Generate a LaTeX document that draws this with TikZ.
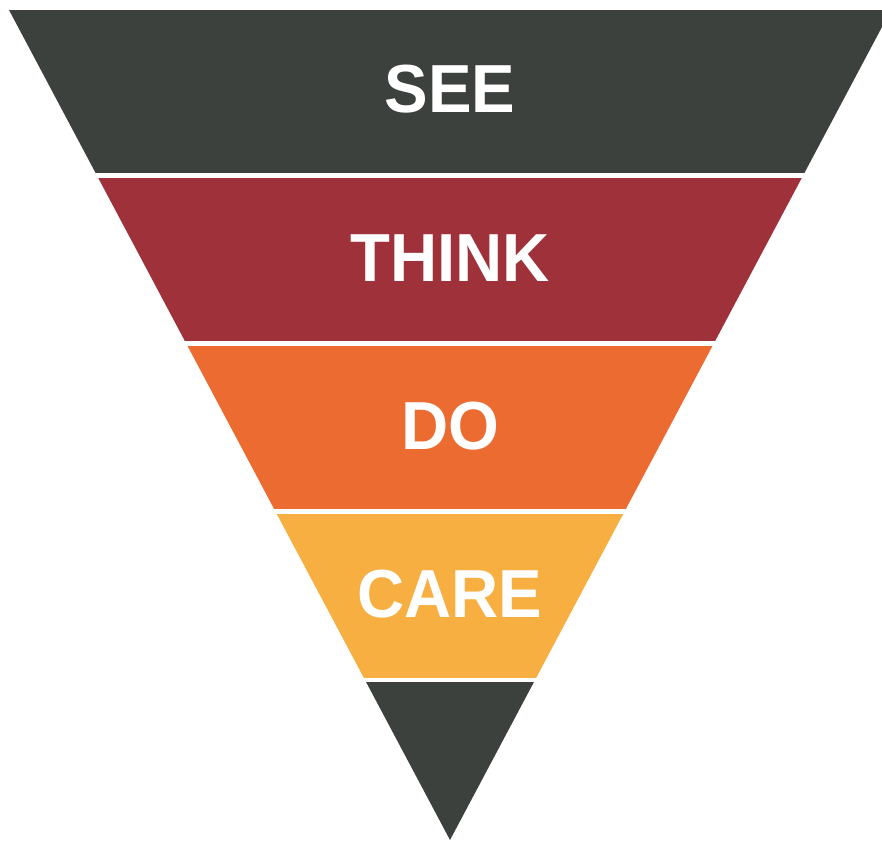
\documentclass[tikz,border=0pt]{standalone}
\usepackage{fontspec}
\setmainfont{Liberation Sans}
\newfontfamily\labelfont{Liberation Sans}[FakeStretch=0.96]
\definecolor{darkband}{HTML}{3D413D}
\definecolor{redband}{HTML}{9E313A}
\definecolor{orangeband}{HTML}{EC6B31}
\definecolor{yellowband}{HTML}{F8AF42}
\tikzset{
  label/.style={text=white, font=\labelfont\fontsize{68}{68}\selectfont\bfseries, anchor=base, inner sep=0pt},
}
\newcommand{\funnel}{(9,-10) -- (891,-10) -- (450,-840) -- cycle}
\begin{document}
\begin{tikzpicture}[x=1pt,y=1pt]
\useasboundingbox (0,0) rectangle (882,-841);
\clip (0,0) rectangle (882,-841);
\begin{scope}
  \clip (0,-10) rectangle (900,-172);
  \fill[darkband] \funnel;
\end{scope}
\begin{scope}
  \clip (0,-178) rectangle (900,-340);
  \fill[redband] \funnel;
\end{scope}
\begin{scope}
  \clip (0,-346) rectangle (900,-508);
  \fill[orangeband] \funnel;
\end{scope}
\begin{scope}
  \clip (0,-514) rectangle (900,-677);
  \fill[yellowband] \funnel;
\end{scope}
\begin{scope}
  \clip (0,-682) rectangle (900,-845);
  \fill[darkband] \funnel;
\end{scope}
\node[label] (see) at (450,-112) {SEE};
\node[label] (think) at (450,-281) {THINK};
\node[label] (do) at (450,-449) {DO};
\node[label] (care) at (450,-617) {CARE};
\end{tikzpicture}
\end{document}
